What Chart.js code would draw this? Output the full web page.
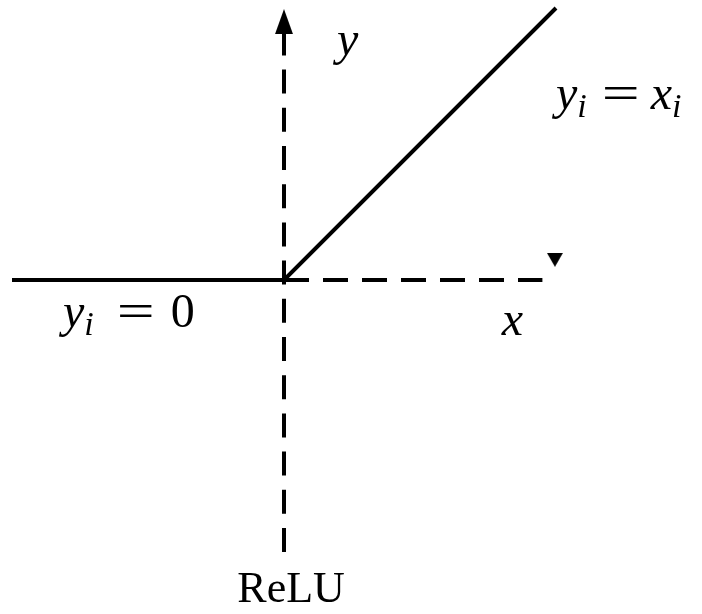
<!DOCTYPE html>
<html>
<head>
<meta charset="utf-8">
<script src="https://cdn.jsdelivr.net/npm/chart.js@4"></script>
<style>
  html, body { margin: 0; padding: 0; background: #fff; }
  #relu { display: block; }
</style>
</head>
<body>
<canvas id="relu" width="702" height="614"></canvas>
<script>
// ReLU: y = max(0, x)
const reluX = [-1, 0, 1];
const reluY = [0, 0, 1];

// dashed axes (extent in data units)
const axisXFrom = [0, 0];      // x, y of horizontal axis start
const axisXTo   = [0.95, 0];
const axisYFrom = [0, -1];
const axisYTo   = [0, 0.91];

// arrow heads
const arrowX = [0, 0.996];
const arrowY = [0.95, 0.074];

// ── STYLE ─────────────────────────────────────────────
const INK = '#000';
const SERIF = "'Liberation Serif', 'DejaVu Serif', serif";
const FONT_PX = 48;
const OP_STRETCH = 1.4;   // widen '=' to look like TeX

// text labels, anchored in data units; parts = [text, kind, padLeft, padRight]
const LABELS = [
  { at: [0.195, 0.827],    parts: [['y', 'it']] },
  { at: [1.0, 0.629],      parts: [['y', 'it'], ['i', 'sub'], ['=', 'op', 15, 11], ['x', 'it'], ['i', 'sub']] },
  { at: [-0.8125, -0.173], parts: [['y', 'it'], ['i', 'sub'], ['=', 'op', 23, 16], ['0', 'rm']] },
  { at: [0.801, -0.202],   parts: [['x', 'it']] },
  { at: [0.026, -1.184],   parts: [['ReLU', 'roman']], center: true },
];

function fontFor(kind) {
  if (kind === 'it')    return `italic ${FONT_PX}px ${SERIF}`;
  if (kind === 'sub')   return `italic ${Math.round(FONT_PX * 0.7)}px ${SERIF}`;
  if (kind === 'roman') return `44px ${SERIF}`;
  return `${FONT_PX}px ${SERIF}`;
}

function makeArrow(w, h, dir) {
  const c = document.createElement('canvas');
  c.width = w; c.height = h;
  const g = c.getContext('2d');
  g.fillStyle = INK;
  g.beginPath();
  if (dir === 'up') {
    g.moveTo(w / 2, 0); g.lineTo(w, h); g.lineTo(0, h);
  } else {
    g.moveTo(0, 0); g.lineTo(w, 0); g.lineTo(w / 2, h);
  }
  g.closePath();
  g.fill();
  return c;
}

const textPlugin = {
  id: 'mathText',
  afterDatasetsDraw(chart) {
    const { ctx, scales: { x, y } } = chart;
    ctx.save();
    ctx.fillStyle = INK;
    ctx.textBaseline = 'alphabetic';
    LABELS.forEach(lab => {
      let px = x.getPixelForValue(lab.at[0]);
      const py = y.getPixelForValue(lab.at[1]);
      if (lab.center) {
        let total = 0;
        lab.parts.forEach(p => { ctx.font = fontFor(p[1]); total += ctx.measureText(p[0]).width; });
        px -= total / 2;
      }
      lab.parts.forEach(([txt, kind, padL = 0, padR = 0]) => {
        ctx.font = fontFor(kind);
        px += padL;
        const w = ctx.measureText(txt).width;
        if (kind === 'op') {
          ctx.save();
          ctx.translate(px, py);
          ctx.scale(OP_STRETCH, 1);
          ctx.fillText(txt, 0, 0);
          ctx.restore();
          px += w * OP_STRETCH + padR;
        } else {
          ctx.fillText(txt, px, kind === 'sub' ? py + 8 : py);
          px += w + padR;
        }
      });
    });
    ctx.restore();
  }
};

const lineStyle = { showLine: true, pointRadius: 0, borderColor: INK, borderWidth: 4, fill: false, tension: 0 };

new Chart(document.getElementById('relu'), {
  type: 'scatter',
  data: {
    datasets: [
      { ...lineStyle, data: reluX.map((v, i) => ({ x: v, y: reluY[i] })) },
      { ...lineStyle, borderDash: [24, 14.2],
        data: [{ x: axisYFrom[0], y: axisYFrom[1] }, { x: axisYTo[0], y: axisYTo[1] }] },
      { ...lineStyle, borderDash: [25, 14],
        data: [{ x: axisXFrom[0], y: axisXFrom[1] }, { x: axisXTo[0], y: axisXTo[1] }] },
      { showLine: false, pointRadius: 10,
        pointStyle: [makeArrow(18, 25, 'up'), makeArrow(16, 14, 'down')],
        data: arrowX.map((v, i) => ({ x: v, y: arrowY[i] })) },
    ]
  },
  options: {
    responsive: false,
    animation: false,
    layout: { padding: 0, autoPadding: false },
    plugins: { legend: { display: false }, tooltip: { enabled: false } },
    scales: {
      x: { type: 'linear', display: false, min: -284 / 272, max: 418 / 272 },
      y: { type: 'linear', display: false, min: -334 / 272, max: 280 / 272 },
    }
  },
  plugins: [textPlugin]
});
</script>
</body>
</html>
